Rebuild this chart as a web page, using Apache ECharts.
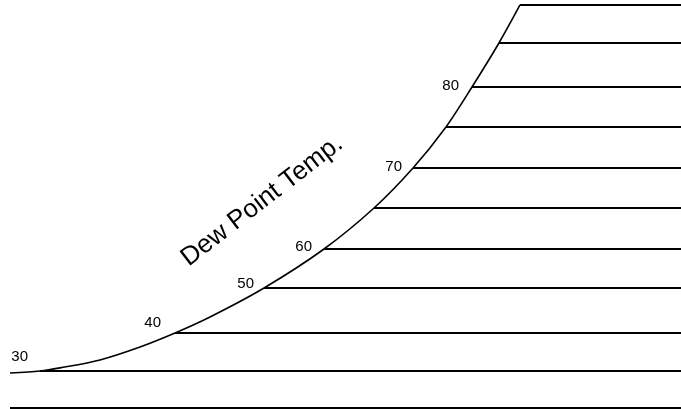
<!DOCTYPE html>
<html>
<head>
<meta charset="utf-8">
<script src="https://cdn.jsdelivr.net/npm/echarts@6/dist/echarts.min.js"></script>
<style>
html,body{margin:0;padding:0;background:#fff;}
#chart{width:681px;height:409px;}
</style>
</head>
<body>
<div id="chart"></div>
<script>
// Dew point lines (°F) and where each meets the saturation curve (schematic units, 0-100)
const dewPoints = [30, 40, 50, 60, 65, 70, 75, 80, 85, 90];
const lineStartX = [5.87, 25.70, 38.77, 47.58, 54.92, 60.65, 65.49, 69.31, 73.27, 76.36];
const lineLevelY = [9.29, 18.58, 29.58, 39.12, 49.14, 58.92, 68.95, 78.73, 89.49, 98.78];
// Additional points along the saturation curve between the dew point lines
const extraCurveX = [1.47, 8.81, 14.68, 20.56, 30.84];
const extraCurveY = [8.80, 10.05, 12.00, 15.16, 22.49];
// Dew points that carry a label
const labeledDewPoints = [30, 40, 50, 60, 70, 80];
// Base (zero humidity) line
const baseLineY = 0.25;
const baseLineStartX = 1.47;
const chartRightX = 100;
const titleText = 'Dew Point Temp.';

const ink = '#000';

// saturation curve points, sorted by x
const curvePts = [];
dewPoints.forEach((d, i) => curvePts.push([lineStartX[i], lineLevelY[i]]));
extraCurveX.forEach((x, i) => curvePts.push([x, extraCurveY[i]]));
curvePts.sort((a, b) => a[0] - b[0]);

const series = [];
series.push({
  type: 'line', data: curvePts, smooth: 0.3, symbol: 'none',
  lineStyle: { color: ink, width: 1.6 }, silent: true, z: 3
});
dewPoints.forEach((d, i) => {
  series.push({
    type: 'line', data: [[lineStartX[i], lineLevelY[i]], [chartRightX, lineLevelY[i]]],
    symbol: 'none', lineStyle: { color: ink, width: 1.8 }, silent: true
  });
});
series.push({
  type: 'line', data: [[baseLineStartX, baseLineY], [chartRightX, baseLineY]],
  symbol: 'none', lineStyle: { color: ink, width: 1.8 }, silent: true
});

// label offsets (style): [dx, dy] from curve point to label's right-middle
const labelOffsets = { 30: [-12, -14], 40: [-14, -10], 50: [-10, -4], 60: [-12, -2], 70: [-11, -1], 80: [-13, -1] };
series.push({
  type: 'scatter', symbolSize: 0, silent: true, z: 5,
  itemStyle: { color: ink, opacity: 1 },
  label: {
    show: true, align: 'right', verticalAlign: 'middle',
    fontSize: 15, fontFamily: 'Arial, sans-serif', color: '#000', opacity: 1,
    textBorderWidth: 0,
    formatter: p => String(p.value[2])
  },
  data: labeledDewPoints.map(d => {
    const i = dewPoints.indexOf(d);
    return {
      value: [lineStartX[i], lineLevelY[i], d],
      label: { position: labelOffsets[d] }
    };
  })
});

const chart = echarts.init(document.getElementById('chart'), null, { renderer: 'canvas' });
chart.setOption({
  backgroundColor: '#fff',
  animation: false,
  grid: { left: 0, right: 0, top: 0, bottom: 0, containLabel: false },
  xAxis: { type: 'value', min: 0, max: 100, show: false },
  yAxis: { type: 'value', min: 0, max: 100, show: false },
  series: series,
  graphic: [{
    type: 'text', x: 262, y: 201, rotation: 37.7 * Math.PI / 180,
    style: {
      text: titleText, font: '26px Arial, sans-serif',
      fill: ink, textAlign: 'center', textVerticalAlign: 'middle'
    }
  }]
});
</script>
</body>
</html>
